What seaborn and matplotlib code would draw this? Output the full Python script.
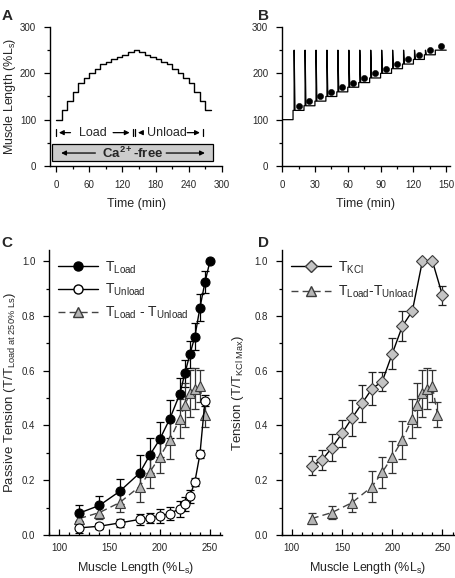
import numpy as np
import pandas as pd
import matplotlib
matplotlib.use("Agg")
import matplotlib.pyplot as plt
import seaborn as sns
from matplotlib.lines import Line2D
from matplotlib.patches import Rectangle
from matplotlib.ticker import MultipleLocator

# Panel A: load / unload protocol (10 min steps)
a_time = [0, 10, 20, 30, 40, 50, 60, 70, 80, 90, 100, 110, 120, 130, 140,
          150, 160, 170, 180, 190, 200, 210, 220, 230, 240, 250, 260, 270, 280]
a_length = [100, 120, 140, 160, 180, 190, 200, 210, 220, 225, 230, 235, 240, 245, 250,
            245, 240, 235, 230, 225, 220, 210, 200, 190, 180, 160, 140, 120, 120]

# Panel B: step lengths with transient stretch to 250 %Ls
b_step_time = [10, 20, 30, 40, 50, 60, 70, 80, 90, 100, 110, 120, 130]
b_floor = [120, 130, 140, 150, 160, 170, 180, 190, 200, 210, 220, 230, 240]
b_peak = 250
b_dot_time = [15, 25, 35, 45, 55, 65, 75, 85, 95, 105, 115, 125, 135, 145]
b_dot_len = [130, 140, 150, 160, 170, 180, 190, 200, 210, 220, 230, 240, 250, 260]

# Panel C: passive tension
c_x = [120, 140, 160, 180, 190, 200, 210, 220, 225, 230, 235, 240, 245, 250]
c_load = [0.08, 0.108, 0.159, 0.226, 0.291, 0.349, 0.424, 0.515, 0.59, 0.66, 0.725, 0.83, 0.923, 1.0]
c_load_err = [0.03, 0.035, 0.045, 0.065, 0.065, 0.065, 0.07, 0.06, 0.05, 0.05, 0.05, 0.05, 0.04, 0.0]
c_x_un = [120, 140, 160, 180, 190, 200, 210, 220, 225, 230, 235, 240, 245]
c_unload = [0.026, 0.032, 0.044, 0.057, 0.062, 0.069, 0.078, 0.096, 0.114, 0.141, 0.195, 0.295, 0.49]
c_unload_err = [0.02, 0.01, 0.015, 0.02, 0.02, 0.025, 0.025, 0.03, 0.025, 0.025, 0.015, 0.015, 0.02]
diff_x = [120, 140, 160, 180, 190, 200, 210, 220, 225, 230, 235, 240, 245]
diff_y = [0.06, 0.082, 0.118, 0.177, 0.229, 0.285, 0.347, 0.425, 0.475, 0.517, 0.535, 0.544, 0.44]
diff_err = [0.02, 0.025, 0.035, 0.055, 0.057, 0.06, 0.07, 0.07, 0.08, 0.085, 0.075, 0.06, 0.045]

# Panel D: KCl tension
d_x = [120, 130, 140, 150, 160, 170, 180, 190, 200, 210, 220, 230, 240, 250]
d_kcl = [0.253, 0.273, 0.319, 0.371, 0.427, 0.481, 0.535, 0.56, 0.662, 0.762, 0.818, 1.0, 1.0, 0.875]
d_kcl_err = [0.035, 0.037, 0.05, 0.05, 0.065, 0.068, 0.06, 0.035, 0.057, 0.055, 0.0, 0.0, 0.0, 0.035]

sns.set_style("ticks")
plt.rcParams['font.family'] = ['Liberation Sans', 'DejaVu Sans']
plt.rcParams['mathtext.fontset'] = 'custom'
plt.rcParams['mathtext.rm'] = 'Liberation Sans'
plt.rcParams['mathtext.bf'] = 'Liberation Sans:bold'
plt.rcParams['mathtext.it'] = 'Liberation Sans:italic'
plt.rcParams['mathtext.default'] = 'regular'

LABEL_FS = 9
TICK_FS = 7

fig = plt.figure(figsize=(4.55, 5.78), dpi=100)
axA = fig.add_axes([0.110, 0.7128, 0.378, 0.2405])
axB = fig.add_axes([0.620, 0.7128, 0.368, 0.2405])
axC = fig.add_axes([0.108, 0.0744, 0.380, 0.4926])
axD = fig.add_axes([0.619, 0.0744, 0.380, 0.4926])

def style_axis(ax):
    sns.despine(ax=ax)
    for s in ['left', 'bottom']:
        ax.spines[s].set_linewidth(1.0)
        ax.spines[s].set_color('black')
    ax.tick_params(which='major', length=4, width=0.9, labelsize=TICK_FS, color='black', pad=6)
    ax.tick_params(which='minor', length=2.5, width=0.9, color='black')

# ---------------- Panel A ----------------
sns.lineplot(x=a_time, y=a_length, ax=axA, color='black', lw=1.0,
             drawstyle='steps-post', sort=False, estimator=None)
axA.set_xlim(-11, 300)
axA.set_ylim(0, 300)
axA.xaxis.set_major_locator(MultipleLocator(60))
axA.xaxis.set_minor_locator(MultipleLocator(30))
axA.yaxis.set_major_locator(MultipleLocator(100))
axA.yaxis.set_minor_locator(MultipleLocator(50))
style_axis(axA)
axA.set_xlabel("Time (min)", fontsize=LABEL_FS, labelpad=6)
axA.set_ylabel("Muscle Length (%L$_s$)", fontsize=LABEL_FS)
axA.yaxis.set_label_coords(-0.186, 0.5)

arr = dict(arrowstyle='-|>', color='black', lw=0.9, mutation_scale=7)
yl = 72
axA.plot([0, 0], [yl - 8, yl + 8], color='black', lw=0.9)
axA.annotate('', xy=(0, yl), xytext=(31, yl), arrowprops=arr)
axA.text(66, yl, "Load", ha='center', va='center', fontsize=9)
axA.annotate('', xy=(138, yl), xytext=(98, yl), arrowprops=arr)
axA.plot([139, 139], [yl - 8, yl + 8], color='black', lw=0.9)
axA.plot([142, 142], [yl - 8, yl + 8], color='black', lw=0.9)
axA.annotate('', xy=(143, yl), xytext=(158, yl), arrowprops=arr)
axA.text(200, yl, "Unload", ha='center', va='center', fontsize=9)
axA.annotate('', xy=(265, yl), xytext=(232, yl), arrowprops=arr)
axA.plot([266, 266], [yl - 8, yl + 8], color='black', lw=0.9)

axA.add_patch(Rectangle((-7, 11), 291, 36, facecolor='#cccccc', edgecolor='black',
                        lw=0.9, zorder=3))
axA.text(138, 28, r"Ca$^{\mathbf{2+}}$-free", ha='center', va='center', fontsize=9.5,
         fontweight='bold', zorder=4)
axA.annotate('', xy=(4, 28), xytext=(76, 28), arrowprops=arr, zorder=4)
axA.annotate('', xy=(274, 28), xytext=(194, 28), arrowprops=arr, zorder=4)

# ---------------- Panel B ----------------
bx = [0, b_step_time[0]]
by = [100, 100]
prev = 100
for t, lev in zip(b_step_time, b_floor):
    bx += [t, t, t + 1, t + 1, t + 1.8, t + 10]
    by += [prev, lev, lev, b_peak, lev, lev]
    prev = lev
bx += [140, 150]
by += [b_peak, b_peak]
sns.lineplot(x=bx, y=by, ax=axB, color='black', lw=0.9, sort=False, estimator=None)
sns.scatterplot(x=b_dot_time, y=b_dot_len, ax=axB, color='black', s=20,
                edgecolor='black', zorder=3)
axB.set_xlim(0, 153)
axB.set_ylim(0, 300)
axB.xaxis.set_major_locator(MultipleLocator(30))
axB.xaxis.set_minor_locator(MultipleLocator(15))
axB.yaxis.set_major_locator(MultipleLocator(100))
axB.yaxis.set_minor_locator(MultipleLocator(50))
style_axis(axB)
axB.set_xlabel("Time (min)", fontsize=LABEL_FS, labelpad=6)

# ---------------- Panel C ----------------
tri_face = '#b5b5b5'
tri_edge = '#3c3c3c'
dash = (0, (5, 3))

axC.errorbar(c_x, c_load, yerr=c_load_err, fmt='none', ecolor='black',
             elinewidth=0.9, capsize=3, capthick=0.9, zorder=2)
axC.errorbar(c_x_un, c_unload, yerr=c_unload_err, fmt='none', ecolor='black',
             elinewidth=0.9, capsize=3, capthick=0.9, zorder=2)
axC.errorbar(diff_x, diff_y, yerr=diff_err, fmt='none', ecolor='#333333',
             elinewidth=0.9, capsize=3, capthick=0.9, zorder=2)
sns.lineplot(x=diff_x, y=diff_y, ax=axC, color='#444444', lw=1.0, linestyle=dash,
             marker='^', markersize=7, markerfacecolor=tri_face,
             markeredgecolor=tri_edge, markeredgewidth=0.8,
             sort=False, estimator=None, zorder=3)
sns.lineplot(x=c_x_un, y=c_unload, ax=axC, color='black', lw=1.0,
             marker='o', markersize=6.5, markerfacecolor='white',
             markeredgecolor='black', markeredgewidth=0.8,
             sort=False, estimator=None, zorder=4)
sns.lineplot(x=c_x, y=c_load, ax=axC, color='black', lw=1.0,
             marker='o', markersize=6.5, markerfacecolor='black',
             markeredgecolor='black', markeredgewidth=0.8,
             sort=False, estimator=None, zorder=5)
axC.set_xlim(90, 262)
axC.set_ylim(0, 1.04)
axC.xaxis.set_major_locator(MultipleLocator(50))
axC.xaxis.set_minor_locator(MultipleLocator(10))
axC.yaxis.set_major_locator(MultipleLocator(0.2))
axC.yaxis.set_minor_locator(MultipleLocator(0.1))
axC.yaxis.set_major_formatter(matplotlib.ticker.FormatStrFormatter('%.1f'))
style_axis(axC)
axC.tick_params(axis='x', which='both', direction='in')
axC.set_xlabel("Muscle Length (%L$_s$)", fontsize=LABEL_FS, labelpad=5)
axC.set_ylabel(r"Passive Tension (T/T$_{Load\ at\ 250\%\ Ls}$)", fontsize=LABEL_FS + 0.5)
axC.yaxis.set_label_coords(-0.18, 0.5)

hC = [Line2D([], [], color='black', lw=1.0, marker='o', ms=6.5, mfc='black', mec='black'),
      Line2D([], [], color='black', lw=1.0, marker='o', ms=6.5, mfc='white', mec='black'),
      Line2D([], [], color='#444444', lw=1.0, ls=dash, marker='^', ms=7,
             mfc=tri_face, mec=tri_edge)]
axC.legend(hC, ["T$_{Load}$", "T$_{Unload}$", "T$_{Load}$ - T$_{Unload}$"],
           loc='upper left', bbox_to_anchor=(0.0, 1.0), frameon=False, fontsize=10,
           handlelength=2.9, handletextpad=0.5, labelspacing=0.45, borderaxespad=0.25)

# ---------------- Panel D ----------------
axD.errorbar(d_x, d_kcl, yerr=d_kcl_err, fmt='none', ecolor='#222222',
             elinewidth=0.9, capsize=3, capthick=0.9, zorder=2)
axD.errorbar(diff_x, diff_y, yerr=diff_err, fmt='none', ecolor='#333333',
             elinewidth=0.9, capsize=3, capthick=0.9, zorder=2)
sns.lineplot(x=diff_x, y=diff_y, ax=axD, color='#444444', lw=1.0, linestyle=dash,
             marker='^', markersize=7, markerfacecolor=tri_face,
             markeredgecolor=tri_edge, markeredgewidth=0.8,
             sort=False, estimator=None, zorder=3)
sns.lineplot(x=d_x, y=d_kcl, ax=axD, color='black', lw=1.0,
             marker='D', markersize=6, markerfacecolor='#c4c4c4',
             markeredgecolor='#3c3c3c', markeredgewidth=0.8,
             sort=False, estimator=None, zorder=4)
axD.set_xlim(90, 262)
axD.set_ylim(0, 1.04)
axD.xaxis.set_major_locator(MultipleLocator(50))
axD.xaxis.set_minor_locator(MultipleLocator(10))
axD.yaxis.set_major_locator(MultipleLocator(0.2))
axD.yaxis.set_minor_locator(MultipleLocator(0.1))
axD.yaxis.set_major_formatter(matplotlib.ticker.FormatStrFormatter('%.1f'))
style_axis(axD)
axD.tick_params(axis='x', which='both', direction='in')
axD.set_xlabel("Muscle Length (%L$_s$)", fontsize=LABEL_FS, labelpad=5)
axD.set_ylabel(r"Tension (T/T$_{KCl\ Max}$)", fontsize=LABEL_FS + 0.5)
axD.yaxis.set_label_coords(-0.205, 0.5)

hD = [Line2D([], [], color='black', lw=1.0, marker='D', ms=6, mfc='#c4c4c4', mec='#3c3c3c'),
      Line2D([], [], color='#444444', lw=1.0, ls=dash, marker='^', ms=7,
             mfc=tri_face, mec=tri_edge)]
axD.legend(hD, ["T$_{KCl}$", "T$_{Load}$-T$_{Unload}$"],
           loc='upper left', bbox_to_anchor=(0.0, 1.0), frameon=False, fontsize=10,
           handlelength=2.9, handletextpad=0.5, labelspacing=0.6, borderaxespad=0.25)

for lab, x, y in [("A", 0.004, 0.985), ("B", 0.566, 0.985), ("C", 0.004, 0.592), ("D", 0.566, 0.592)]:
    fig.text(x, y, lab, fontsize=11, fontweight='bold', ha='left', va='top')

fig.savefig("out.png", dpi=100)
